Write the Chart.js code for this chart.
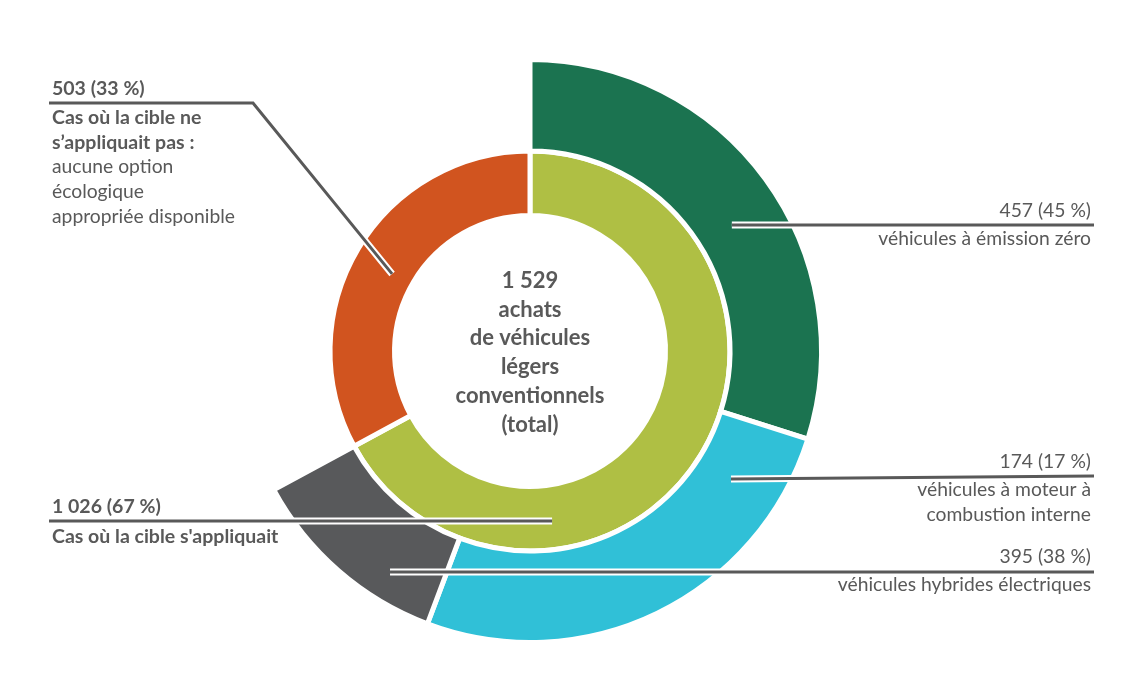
<!DOCTYPE html>
<html><head><meta charset="utf-8">
<script src="https://cdn.jsdelivr.net/npm/chart.js@4.4.1/dist/chart.umd.min.js"></script>
<style>html,body{margin:0;padding:0;background:#fff;}</style>
</head><body>
<canvas id="c" width="1141" height="691"></canvas>
<script>
// ---- data ----
const outerCategories = ['véhicules à émission zéro', 'véhicules hybrides électriques', 'véhicules à moteur à combustion interne'];
const outerValues = [457, 395, 174];
const innerCategories = ['Cas où la cible s\'appliquait', 'Cas où la cible ne s’appliquait pas'];
const innerValues = [1026, 503];
const centerLines = ['1 529', 'achats', 'de véhicules', 'légers', 'conventionnels', '(total)'];

const outerColors = ['#1B7350', '#30C0D7', '#58595B'];
const innerColors = ['#AFBF44', '#D1541F'];
const TEXT = '#595959';
const FONT = 'Lato, "Open Sans", sans-serif';

function fmt(n) { return String(n).replace(/\B(?=(\d{3})+(?!\d))/g, ' '); }
function pct(v, t) { return Math.round(v / t * 100) + ' %'; }
const innerTotal = innerValues.reduce((a, b) => a + b, 0);
const appliedTotal = innerValues[0];

// callouts: anchor in polar (deg clockwise from top, px from centre)
const callouts = [
  { angle: 299.2, r: 158, path: [[253, 103], [49, 103]], align: 'left', x: 52,
    lines: [[fmt(innerValues[1]) + ' (' + pct(innerValues[1], innerTotal) + ')', true, 95],
            ['Cas où la cible ne', true, 124], ['s’appliquait pas :', true, 149],
            ['aucune option', false, 173], ['écologique', false, 198], ['appropriée disponible', false, 223]] },
  { angle: 58.0, r: 238, path: [[1094, null]], align: 'right', x: 1091,
    lines: [[fmt(outerValues[0]) + ' (' + pct(outerValues[0], appliedTotal) + ')', false, 217],
            ['véhicules à émission zéro', false, 245]] },
  { angle: 122.5, r: 238.3, path: [[1094, 476]], align: 'right', x: 1091,
    lines: [[fmt(outerValues[2]) + ' (' + pct(outerValues[2], appliedTotal) + ')', false, 468],
            ['véhicules à moteur à', false, 496], ['combustion interne', false, 521]] },
  { angle: 212.35, r: 261.6, path: [[1094, null]], align: 'right', x: 1091,
    lines: [[fmt(outerValues[1]) + ' (' + pct(outerValues[1], appliedTotal) + ')', false, 563],
            ['véhicules hybrides électriques', false, 591]] },
  { angle: 172.6, r: 171.4, path: [[49, null]], align: 'left', x: 52,
    lines: [[fmt(innerValues[0]) + ' (' + pct(innerValues[0], innerTotal) + ')', true, 513],
            [innerCategories[0], true, 543]] }
];

const annot = {
  id: 'annot',
  afterDatasetsDraw(chart) {
    const ctx = chart.ctx;
    const arc = chart.getDatasetMeta(0).data[0];
    const cx = arc.x, cy = arc.y;
    ctx.save();
    callouts.forEach(c => {
      const a = c.angle * Math.PI / 180;
      const ax = cx + c.r * Math.sin(a), ay = cy - c.r * Math.cos(a);
      const pts = [[ax, ay]].concat(c.path.map(p => [p[0], p[1] === null ? ay : p[1]]));
      [['#ffffff', 7], ['#595959', 3]].forEach(([col, w]) => {
        ctx.beginPath();
        ctx.moveTo(pts[0][0], pts[0][1]);
        for (let i = 1; i < pts.length; i++) ctx.lineTo(pts[i][0], pts[i][1]);
        ctx.strokeStyle = col; ctx.lineWidth = w; ctx.lineJoin = 'miter'; ctx.lineCap = 'butt';
        ctx.stroke();
      });
      ctx.fillStyle = TEXT;
      ctx.textAlign = c.align;
      ctx.textBaseline = 'alphabetic';
      c.lines.forEach(([t, bold, y]) => {
        ctx.font = (bold ? 'bold 19.5px ' : '19.3px ') + FONT;
        ctx.fillText(t, c.x, y);
      });
    });
    // centre text
    ctx.textAlign = 'center';
    ctx.font = 'bold 22px ' + FONT;
    centerLines.forEach((t, i) => ctx.fillText(t, cx, 288 + i * 28.7));
    ctx.restore();
  }
};

new Chart(document.getElementById('c'), {
  type: 'doughnut',
  data: {
    labels: outerCategories.concat(['']),
    datasets: [
      { data: outerValues.concat([innerValues[1]]),
        backgroundColor: outerColors.concat(['rgba(0,0,0,0)']),
        borderColor: '#ffffff', borderWidth: [5, 5, 5, 0], borderJoinStyle: 'miter', weight: 91.5 },
      { data: innerValues, backgroundColor: innerColors,
        borderColor: '#ffffff', borderWidth: 5, borderJoinStyle: 'miter', weight: 64.5 }
    ]
  },
  options: {
    responsive: false,
    animation: false,
    events: [],
    radius: 291.5,
    cutout: '46.48%',
    layout: { padding: { left: 0, right: 81, top: 11, bottom: 0 } },
    plugins: { legend: { display: false }, tooltip: { enabled: false } }
  },
  plugins: [annot]
});
</script>
</body></html>
